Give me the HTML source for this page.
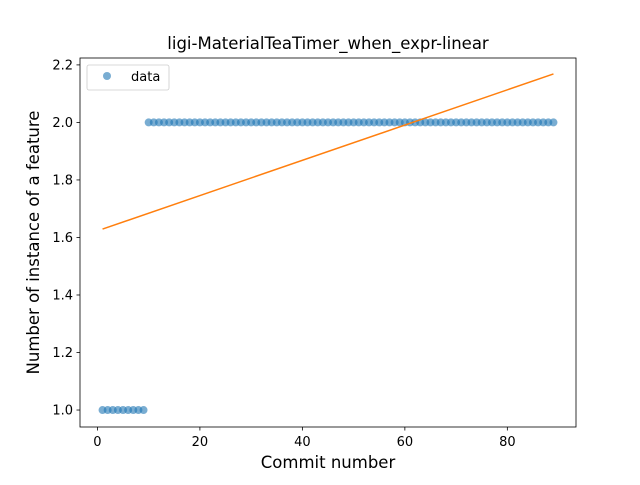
<!DOCTYPE html>
<html><head><meta charset="utf-8"><style>
body{margin:0;background:#fff}
svg{font-family:"DejaVu Sans","Liberation Sans",sans-serif}
</style></head><body>
<svg id="chart" width="640" height="480" xmlns="http://www.w3.org/2000/svg">
<rect width="640" height="480" fill="#fff"/>
<g id="plot"></g>
</svg>
<script>
const xValues = [];
for (let i = 1; i <= 89; i++) xValues.push(i);
const yValues = [1,1,1,1,1,1,1,1,1,2,2,2,2,2,2,2,2,2,2,2,2,2,2,2,2,2,2,2,2,2,2,2,2,2,2,2,2,2,2,2,2,2,2,2,2,2,2,2,2,2,2,2,2,2,2,2,2,2,2,2,2,2,2,2,2,2,2,2,2,2,2,2,2,2,2,2,2,2,2,2,2,2,2,2,2,2,2,2,2];
const xTicks = [0,20,40,60,80];
const yTicks = [1.0,1.2,1.4,1.6,1.8,2.0,2.2];
const L=80,R=576,T=58,B=427;
const xmin=-3.4,xmax=93.4,ymin=0.941,ymax=2.224;
const sx=v=>L+(v-xmin)/(xmax-xmin)*(R-L);
const sy=v=>B-(v-ymin)/(ymax-ymin)*(B-T);
const NS="http://www.w3.org/2000/svg";
const g=document.getElementById('plot');
function mk(tag,attrs,parent){const e=document.createElementNS(NS,tag);for(const k in attrs)e.setAttribute(k,attrs[k]);(parent||g).appendChild(e);return e;}
xValues.forEach((x,i)=>{
  const c=mk('circle',{cx:sx(x),cy:sy(yValues[i]),r:4,fill:'#1f77b4','fill-opacity':0.6});
  
  
});
const n=xValues.length;
const mx=xValues.reduce((a,b)=>a+b,0)/n, my=yValues.reduce((a,b)=>a+b,0)/n;
let sxy=0,sxx=0;xValues.forEach((x,i)=>{sxy+=(x-mx)*(yValues[i]-my);sxx+=(x-mx)**2;});
const slope=sxy/sxx, icpt=my-slope*mx;
const x0=xValues[0],x1=xValues[n-1];
const ln=mk('line',{x1:sx(x0),y1:sy(icpt+slope*x0),x2:sx(x1),y2:sy(icpt+slope*x1),stroke:'#ff7f0e','stroke-width':1.5});


const fr=mk('rect',{x:L,y:T,width:R-L,height:B-T,fill:'none',stroke:'#000','stroke-width':0.8});


xTicks.forEach(t=>{
  mk('line',{x1:sx(t),x2:sx(t),y1:B,y2:B+3.5,stroke:'#000','stroke-width':0.8});
  const tx=mk('text',{x:sx(t),y:B+19,'font-size':13,'text-anchor':'middle'});tx.textContent=t;
  
  
});
yTicks.forEach(t=>{
  mk('line',{x1:L-3.5,x2:L,y1:sy(t),y2:sy(t),stroke:'#000','stroke-width':0.8});
  const tx=mk('text',{x:L-7,y:sy(t)+4.5,'font-size':13,'text-anchor':'end'});tx.textContent=t.toFixed(1);
  
  
});
const title=mk('text',{x:(L+R)/2,y:49,'font-size':16.5,'text-anchor':'middle'});title.textContent='ligi-MaterialTeaTimer_when_expr-linear';


const xl=mk('text',{x:(L+R)/2,y:468,'font-size':16.5,'text-anchor':'middle'});xl.textContent='Commit number';


const yl=mk('text',{x:0,y:0,'font-size':16.5,'text-anchor':'middle',transform:`translate(39,${(T+B)/2}) rotate(-90)`});yl.textContent='Number of instance of a feature';


const lg=mk('g',{});


mk('rect',{x:87,y:65,width:82,height:25,rx:2,fill:'#fff','fill-opacity':0.8,stroke:'#ccc','stroke-width':0.8},lg);
mk('circle',{cx:107,cy:76,r:4,fill:'#1f77b4','fill-opacity':0.6},lg);
const lt=mk('text',{x:131,y:81,'font-size':13},lg);lt.textContent='data';


</script>
</body></html>
